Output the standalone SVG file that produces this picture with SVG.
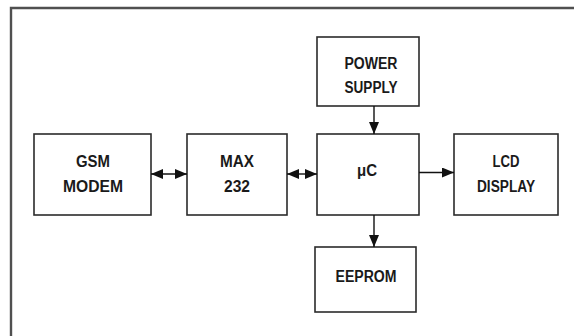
<svg xmlns="http://www.w3.org/2000/svg" width="574" height="336" viewBox="0 0 574 336">
  <style>
    .frame { fill: none; stroke: #505050; stroke-width: 2.4; }
    .box { fill: #ffffff; stroke: #2b2b2b; stroke-width: 1.6; }
    .lbl { font-family: "Liberation Sans", Arial, sans-serif; font-weight: bold; font-size: 16px; fill: #1a1a1a; text-anchor: middle; }
    .wire { fill: none; stroke: #111111; stroke-width: 1.4; }
  </style>
  <defs>
    <marker id="head" viewBox="0 0 12 10" refX="12" refY="5" markerWidth="12" markerHeight="10" markerUnits="userSpaceOnUse" orient="auto-start-reverse">
      <path d="M0,0 L12,5 L0,10 Z" fill="#111111"/>
    </marker>
  </defs>

  <rect width="574" height="336" fill="#ffffff"/>
  <!-- outer frame, running past the right and bottom edges -->
  <path class="frame" d="M11,340 V8 H580"/>

  <g id="power-supply">
    <rect class="box" x="317" y="37" width="102" height="69"/>
    <text class="lbl" x="371" y="69" textLength="53" lengthAdjust="spacingAndGlyphs">POWER</text>
    <text class="lbl" x="371" y="93" textLength="53" lengthAdjust="spacingAndGlyphs">SUPPLY</text>
  </g>

  <g id="gsm-modem">
    <rect class="box" x="34" y="134" width="117" height="81"/>
    <text class="lbl" x="93" y="167" textLength="34" lengthAdjust="spacingAndGlyphs">GSM</text>
    <text class="lbl" x="93" y="192" textLength="60" lengthAdjust="spacingAndGlyphs">MODEM</text>
  </g>

  <g id="max232">
    <rect class="box" x="187" y="134" width="100" height="81"/>
    <text class="lbl" x="237" y="167" textLength="34" lengthAdjust="spacingAndGlyphs">MAX</text>
    <text class="lbl" x="237" y="192" textLength="26" lengthAdjust="spacingAndGlyphs">232</text>
  </g>

  <g id="mcu">
    <rect class="box" x="317" y="134" width="102" height="81"/>
    <text class="lbl" x="367" y="176" textLength="20" lengthAdjust="spacingAndGlyphs">μC</text>
  </g>

  <g id="lcd-display">
    <rect class="box" x="454" y="134" width="104" height="81"/>
    <text class="lbl" x="506" y="167" textLength="27" lengthAdjust="spacingAndGlyphs">LCD</text>
    <text class="lbl" x="506" y="192" textLength="58" lengthAdjust="spacingAndGlyphs">DISPLAY</text>
  </g>

  <g id="eeprom">
    <rect class="box" x="315" y="247" width="101" height="65"/>
    <text class="lbl" x="366" y="282" textLength="61" lengthAdjust="spacingAndGlyphs">EEPROM</text>
  </g>

  <g id="connectors">
    <line class="wire" x1="374" y1="106" x2="374" y2="134" marker-end="url(#head)"/>
    <line class="wire" x1="374" y1="215" x2="374" y2="247" marker-end="url(#head)"/>
    <line class="wire" x1="151" y1="174" x2="187" y2="174" marker-start="url(#head)" marker-end="url(#head)"/>
    <line class="wire" x1="287" y1="174" x2="317" y2="174" marker-start="url(#head)" marker-end="url(#head)"/>
    <line class="wire" x1="419" y1="172.5" x2="454" y2="172.5" marker-end="url(#head)"/>
  </g>
</svg>
